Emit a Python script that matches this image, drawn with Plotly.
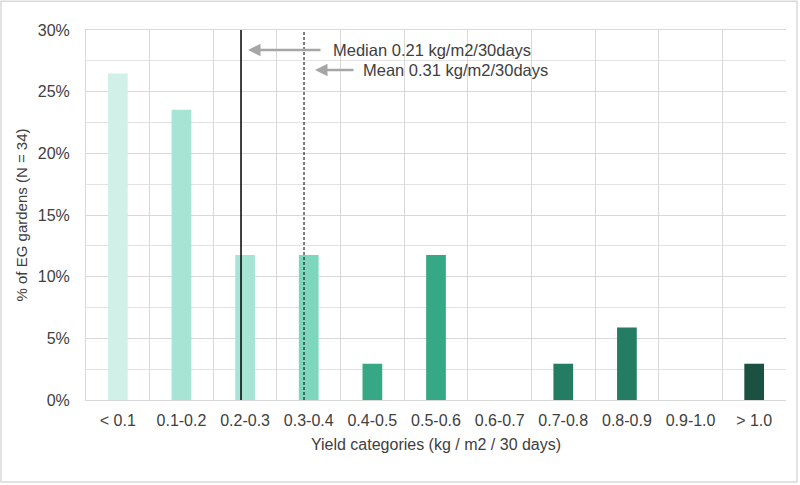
import plotly.graph_objects as go

# yield categories and share of gardens (N = 34)
categories = ["< 0.1", "0.1-0.2", "0.2-0.3", "0.3-0.4", "0.4-0.5", "0.5-0.6",
              "0.6-0.7", "0.7-0.8", "0.8-0.9", "0.9-1.0", "> 1.0"]
gardens = [9, 8, 4, 4, 1, 4, 0, 1, 2, 0, 1]
n_total = 34
share = [g / n_total for g in gardens]

bar_colors = ["#d1f0e7", "#a8e4d3", "#a8e4d3", "#7ed6bd", "#37a886", "#37a886",
              "#2a8c6e", "#247c62", "#247c62", "#1f6652", "#1a5142"]

# position of median / mean lines on the category axis
median_pos = 1.936
mean_pos = 2.926
median_label = "Median 0.21 kg/m2/30days"
mean_label = "Mean 0.31 kg/m2/30days"

font_main = "Liberation Sans, Arial, sans-serif"
text_col = "#404040"

fig = go.Figure(go.Bar(
    x=categories,
    y=share,
    width=0.31,
    marker=dict(color=bar_colors, line=dict(width=0)),
    showlegend=False,
))

# median (solid) and mean (dashed) lines
fig.add_shape(type="line", xref="x", yref="y", x0=median_pos, x1=median_pos,
              y0=0, y1=0.30, line=dict(color="#000000", width=1.5))
fig.add_shape(type="line", xref="x", yref="y", x0=mean_pos, x1=mean_pos,
              y0=0, y1=0.30, line=dict(color="#000000", width=1, dash="3px,2px"))

# outer frame of the chart
fig.add_shape(type="rect", xref="paper", yref="paper",
              x0=-0.1214, x1=1.0157, y0=-0.2216, y1=1.078,
              line=dict(color="#d9d9d9", width=1.5), layer="below")

# arrows pointing to the lines
fig.add_annotation(x=median_pos, y=0.2838, xshift=7, ax=74, ay=0, text="",
                   showarrow=True, arrowhead=2, arrowsize=1, arrowwidth=2.5,
                   arrowcolor="#a6a6a6")
fig.add_annotation(x=mean_pos, y=0.2676, xshift=11, ax=40, ay=0, text="",
                   showarrow=True, arrowhead=2, arrowsize=1, arrowwidth=2.5,
                   arrowcolor="#a6a6a6")
fig.add_annotation(x=median_pos, y=0.2838, xshift=90, xanchor="left", yanchor="middle",
                   text=median_label, showarrow=False,
                   font=dict(family=font_main, size=16.5, color=text_col))
fig.add_annotation(x=mean_pos, y=0.2676, xshift=57, xanchor="left", yanchor="middle",
                   text=mean_label, showarrow=False,
                   font=dict(family=font_main, size=16.5, color=text_col))

fig.update_xaxes(
    type="category",
    tickson="boundaries",
    automargin=False,
    showgrid=True, gridcolor="#d9d9d9", gridwidth=1,
    showline=True, linecolor="#d9d9d9", mirror=True,
    ticks="", ticklen=0,
    ticklabelstandoff=6,
    range=[-0.5, 10.5],
    tickfont=dict(family=font_main, size=16, color=text_col),
    title=dict(text="Yield categories (kg / m2 / 30 days)", standoff=10,
               font=dict(family=font_main, size=16, color=text_col)),
)
fig.update_yaxes(
    range=[0, 0.30],
    tickmode="linear", tick0=0, dtick=0.05,
    tickformat=".0%",
    automargin=False,
    showgrid=True, gridcolor="#d9d9d9", gridwidth=1,
    minor=dict(tickmode="linear", tick0=0, dtick=0.025, ticks="",
               showgrid=True, gridcolor="#e3e3e3", gridwidth=1),
    showline=True, linecolor="#d9d9d9",
    zeroline=False,
    ticks="", ticklen=0,
    ticklabelstandoff=12,
    tickfont=dict(family=font_main, size=16, color=text_col),
    title=dict(text="% of EG gardens (N = 34)", standoff=6,
               font=dict(family=font_main, size=15, color=text_col)),
)

fig.update_layout(
    width=800, height=485,
    margin=dict(l=86, r=14, t=30, b=85),
    plot_bgcolor="white",
    paper_bgcolor="white",
    bargap=0.69,
)

# drop the browser's default page margin so the figure sits at the window's corner
fig.write_html("out.html", config={"displayModeBar": False},
               post_script="document.body.style.margin='0px';")
